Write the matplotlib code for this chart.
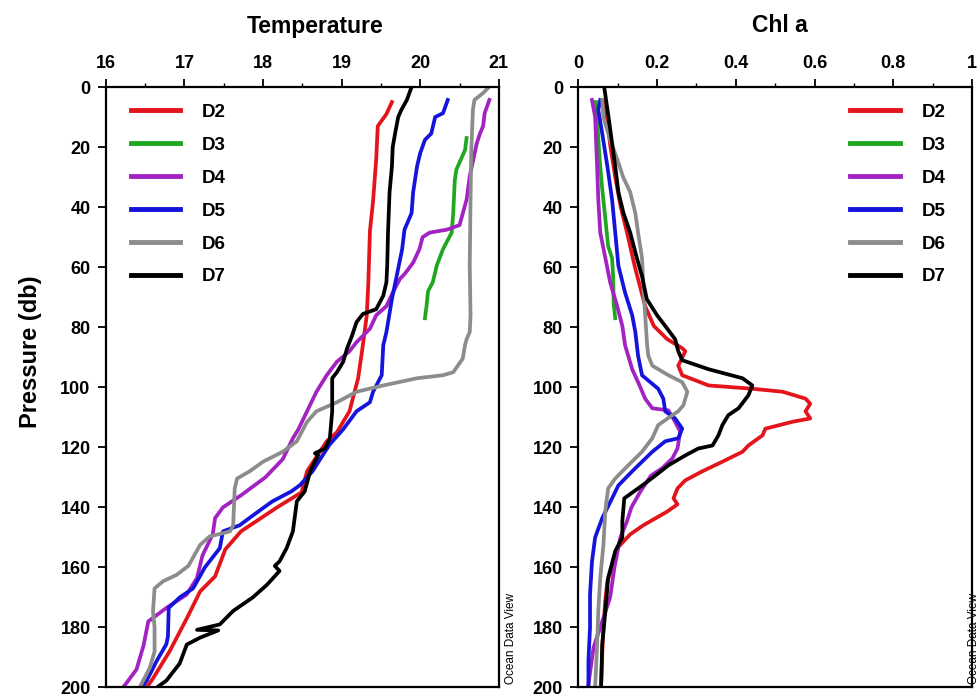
import matplotlib
matplotlib.use("Agg")
import matplotlib.pyplot as plt
from matplotlib.ticker import MultipleLocator

plt.rcParams['font.family'] = ['Liberation Sans', 'DejaVu Sans']
plt.rcParams['font.weight'] = 'bold'

stations = ["D2", "D3", "D4", "D5", "D6", "D7"]
colors = ["#e3141a", "#1fa81f", "#a322c2", "#1414dc", "#8c8c8c", "#000000"]

# temperature profiles (pressure in db, temperature in deg C)
temp_p = {
    "D2": [5, 9, 13, 24, 38, 48, 65, 76, 86, 97, 108, 115, 118, 128, 135, 140, 148, 154, 163, 168, 177, 188, 197, 200],
    "D3": [17, 21, 27.5, 31, 42, 48.5, 54, 59.5, 65, 68, 73, 77],
    "D4": [4.3, 8.7, 13, 15.5, 18.7, 29.7, 37.5, 46, 47.5, 48.5, 50, 54, 58.5, 62, 64, 68.5, 73, 76, 80.5, 85, 88,
           91.5, 96, 101.5, 108, 114, 117, 124, 130, 136, 140, 143.6, 149, 156, 163.5, 169, 173.5, 178, 186, 194, 200],
    "D5": [4.3, 8.7, 10, 15.5, 17.6, 22, 26.4, 35, 42, 47.5, 54, 63, 70.6, 81.6, 86, 96, 101.5, 105, 108, 114, 119,
           122.6, 128, 132.6, 134.7, 138, 141, 146, 148, 153.6, 160, 167, 170, 173.5, 183, 185.6, 191, 197.7, 200],
    "D6": [0.4, 2, 4.3, 7.6, 21, 37.5, 59.5, 76, 81.6, 84, 86, 90.5, 95, 96, 97, 99.4, 101.5, 105, 108, 111.5, 118,
           121.5, 124.8, 128, 130.4, 133.7, 146, 148, 149.7, 152.5, 159.5, 162.5, 164.6, 167, 174.5, 180, 188, 193.4, 200],
    "D7": [0, 4.3, 7.6, 10, 15.5, 20, 26.4, 35, 48.5, 59.5, 65, 69.5, 74, 75.6, 78.3, 83, 87, 91.5, 95, 97, 108, 117,
           120.4, 122, 122.7, 128, 134.7, 138, 148, 153.6, 158, 159.5, 161.2, 165.8, 170, 174.5, 179, 180.8, 181,
           183.4, 185.7, 192, 197.7, 200],
}
temp_t = {
    "D2": [19.64, 19.57, 19.46, 19.44, 19.40, 19.36, 19.34, 19.32, 19.27, 19.21, 19.10, 18.94, 18.81, 18.56, 18.49,
           18.18, 17.72, 17.52, 17.39, 17.20, 17.03, 16.81, 16.60, 16.52],
    "D3": [20.59, 20.57, 20.46, 20.44, 20.42, 20.40, 20.29, 20.21, 20.16, 20.10, 20.08, 20.06],
    "D4": [20.88, 20.82, 20.80, 20.76, 20.72, 20.63, 20.59, 20.50, 20.34, 20.12, 20.03, 19.99, 19.91, 19.81, 19.74,
           19.65, 19.57, 19.44, 19.36, 19.19, 19.10, 18.94, 18.81, 18.68, 18.56, 18.45, 18.38, 18.25, 18.03, 17.72,
           17.49, 17.39, 17.36, 17.23, 17.16, 17.03, 16.77, 16.54, 16.48, 16.39, 16.22],
    "D5": [20.35, 20.29, 20.19, 20.14, 20.06, 20.00, 19.96, 19.91, 19.89, 19.80, 19.77, 19.70, 19.64, 19.57, 19.53,
           19.51, 19.40, 19.36, 19.19, 19.02, 18.85, 18.76, 18.63, 18.47, 18.36, 18.12, 17.96, 17.70, 17.49, 17.45,
           17.26, 17.11, 16.94, 16.80, 16.79, 16.77, 16.65, 16.52, 16.46],
    "D6": [20.86, 20.80, 20.69, 20.67, 20.65, 20.64, 20.63, 20.64, 20.63, 20.59, 20.57, 20.54, 20.42, 20.29, 19.96,
           19.53, 19.19, 18.94, 18.68, 18.56, 18.43, 18.25, 18.00, 17.83, 17.67, 17.64, 17.62, 17.58, 17.32, 17.20,
           17.05, 16.90, 16.73, 16.62, 16.60, 16.62, 16.62, 16.56, 16.43],
    "D7": [19.89, 19.83, 19.76, 19.72, 19.68, 19.65, 19.64, 19.61, 19.59, 19.58, 19.57, 19.53, 19.44, 19.27, 19.19,
           19.13, 19.07, 19.02, 18.94, 18.88, 18.88, 18.85, 18.79, 18.66, 18.70, 18.60, 18.53, 18.43, 18.38, 18.30,
           18.21, 18.15, 18.21, 18.05, 17.87, 17.62, 17.45, 17.16, 17.43, 17.20, 17.03, 16.94, 16.77, 16.65],
}

# chlorophyll a profiles
chl_p = {
    "D2": [5, 10, 20, 30, 40, 48.5, 60, 73, 79.6, 84, 87, 88, 92.8, 96, 99.4, 100.5, 101.5, 103.8, 105.5, 108, 110.4,
           111.5, 113.8, 116, 119.4, 121.5, 124.8, 128, 131, 133.7, 137, 139, 141.4, 146, 149, 153.6, 159, 164.6,
           172, 185, 200],
    "D3": [5, 15, 25, 34, 44, 53, 57, 64, 72, 77],
    "D4": [4.3, 10, 26.4, 37.5, 48.5, 57, 65, 73, 79.6, 86, 94, 98.3, 103.8, 107, 107.7, 111.5, 114.8, 120.4, 123.7,
           127, 129.4, 134.7, 140, 144.6, 150, 160, 170, 186.7, 197, 200],
    "D5": [4.3, 7.6, 15.5, 26.4, 37.5, 48.5, 59.5, 68.5, 76, 81.6, 89.5, 96, 100.5, 103.8, 108, 110.4, 113.8, 117,
           118, 121.5, 124.8, 128, 132.7, 137, 143.6, 150, 158, 169, 180, 191, 200],
    "D6": [4.3, 10, 17.6, 24, 30, 35, 42, 48.5, 57, 65, 76, 86, 89.5, 92.8, 96, 98.3, 101.5, 106, 108, 109.3, 112.6,
           117, 121.5, 126, 130.4, 133.7, 141, 152.5, 163.5, 174.5, 185.7, 200],
    "D7": [0, 10, 18.7, 26.4, 35, 42, 48.5, 57, 63, 70.6, 76, 79.6, 84, 88, 91, 94, 97, 99.4, 102.7, 107, 109.3,
           112.6, 116, 119.4, 120.4, 122.7, 126, 129.4, 132, 137, 144.6, 150, 154.6, 163.5, 174.5, 185.7, 200],
}
chl_c = {
    "D2": [0.064, 0.072, 0.082, 0.094, 0.108, 0.124, 0.144, 0.170, 0.192, 0.226, 0.264, 0.272, 0.254, 0.264, 0.331,
           0.442, 0.519, 0.577, 0.589, 0.577, 0.589, 0.544, 0.475, 0.468, 0.432, 0.417, 0.366, 0.315, 0.272, 0.252,
           0.242, 0.252, 0.226, 0.165, 0.132, 0.099, 0.089, 0.074, 0.068, 0.062, 0.058],
    "D3": [0.045, 0.050, 0.055, 0.061, 0.069, 0.076, 0.086, 0.089, 0.090, 0.094],
    "D4": [0.035, 0.043, 0.048, 0.051, 0.056, 0.069, 0.081, 0.099, 0.112, 0.119, 0.137, 0.152, 0.170, 0.188, 0.229,
           0.246, 0.259, 0.252, 0.239, 0.213, 0.185, 0.158, 0.135, 0.124, 0.107, 0.092, 0.081, 0.039, 0.028, 0.025],
    "D5": [0.056, 0.051, 0.061, 0.074, 0.086, 0.094, 0.102, 0.119, 0.137, 0.145, 0.152, 0.162, 0.203, 0.216, 0.221,
           0.246, 0.264, 0.254, 0.221, 0.188, 0.162, 0.137, 0.102, 0.086, 0.061, 0.043, 0.035, 0.030, 0.030, 0.026,
           0.026],
    "D6": [0.061, 0.064, 0.081, 0.099, 0.114, 0.132, 0.145, 0.152, 0.162, 0.165, 0.170, 0.175, 0.178, 0.188, 0.229,
           0.264, 0.277, 0.267, 0.254, 0.239, 0.203, 0.188, 0.162, 0.127, 0.094, 0.076, 0.069, 0.064, 0.056, 0.051,
           0.048, 0.043],
    "D7": [0.066, 0.077, 0.086, 0.094, 0.102, 0.115, 0.132, 0.149, 0.162, 0.174, 0.200, 0.221, 0.246, 0.254, 0.264,
           0.331, 0.417, 0.442, 0.432, 0.407, 0.381, 0.366, 0.356, 0.341, 0.305, 0.272, 0.229, 0.196, 0.170, 0.117,
           0.112, 0.112, 0.094, 0.076, 0.069, 0.061, 0.058],
}

fig = plt.figure(figsize=(9.8, 6.99), dpi=100)
ax1 = fig.add_axes([0.108, 0.0165, 0.401, 0.859])
ax2 = fig.add_axes([0.590, 0.0165, 0.402, 0.859])


def style_axis(ax, xlim, major, minor):
    ax.set_xlim(*xlim)
    ax.set_ylim(200, 0)
    ax.xaxis.set_major_locator(MultipleLocator(major))
    ax.xaxis.set_minor_locator(MultipleLocator(minor))
    ax.yaxis.set_major_locator(MultipleLocator(20))
    ax.xaxis.tick_top()
    ax.tick_params(axis='both', which='major', direction='out', length=6, width=1.3,
                   labelsize=13, pad=5)
    ax.tick_params(axis='x', which='minor', direction='out', length=3, width=1, top=True, bottom=False)
    for sp in ax.spines.values():
        sp.set_linewidth(1.6)


for name, col in zip(stations, colors):
    ax1.plot(temp_t[name], temp_p[name], color=col, lw=2.7, label=name, solid_joinstyle='round')
    ax2.plot(chl_c[name], chl_p[name], color=col, lw=2.7, label=name, solid_joinstyle='round')

style_axis(ax1, (16, 21), 1, 0.5)
style_axis(ax2, (0, 1), 0.2, 0.1)
ax2.set_xticks([0, 0.2, 0.4, 0.6, 0.8, 1.0])
ax2.set_xticklabels(["0", "0.2", "0.4", "0.6", "0.8", "1"])

leg_kw = dict(frameon=False, handlelength=2.65, handletextpad=1.15,
              labelspacing=0.84, prop={'weight': 'bold', 'size': 13.5})
leg1 = ax1.legend(loc='upper left', bbox_to_anchor=(0.02, 1.0), **leg_kw)
leg2 = ax2.legend(loc='upper right', bbox_to_anchor=(0.975, 1.0), **leg_kw)
for leg in (leg1, leg2):
    for ln in leg.get_lines():
        ln.set_linewidth(3.5)

fig.text(315 / 980, 1 - 26 / 699, "Temperature", ha='center', va='center', fontsize=16.5, fontweight='bold')
fig.text(780 / 980, 1 - 26 / 699, "Chl a", ha='center', va='center', fontsize=16.5, fontweight='bold')
fig.text(30 / 980, 1 - 352 / 699, "Pressure (db)", rotation=90, ha='center', va='center',
         fontsize=17, fontweight='bold')
fig.text(511 / 980, 1 - 638 / 699, "Ocean Data View", rotation=90, ha='center', va='center',
         fontsize=8.5, fontweight='normal')
fig.text(1.0, 1 - 638 / 699, "Ocean Data View", rotation=90, ha='right', va='center',
         fontsize=8.5, fontweight='normal')

fig.savefig("out.png", dpi=100)
